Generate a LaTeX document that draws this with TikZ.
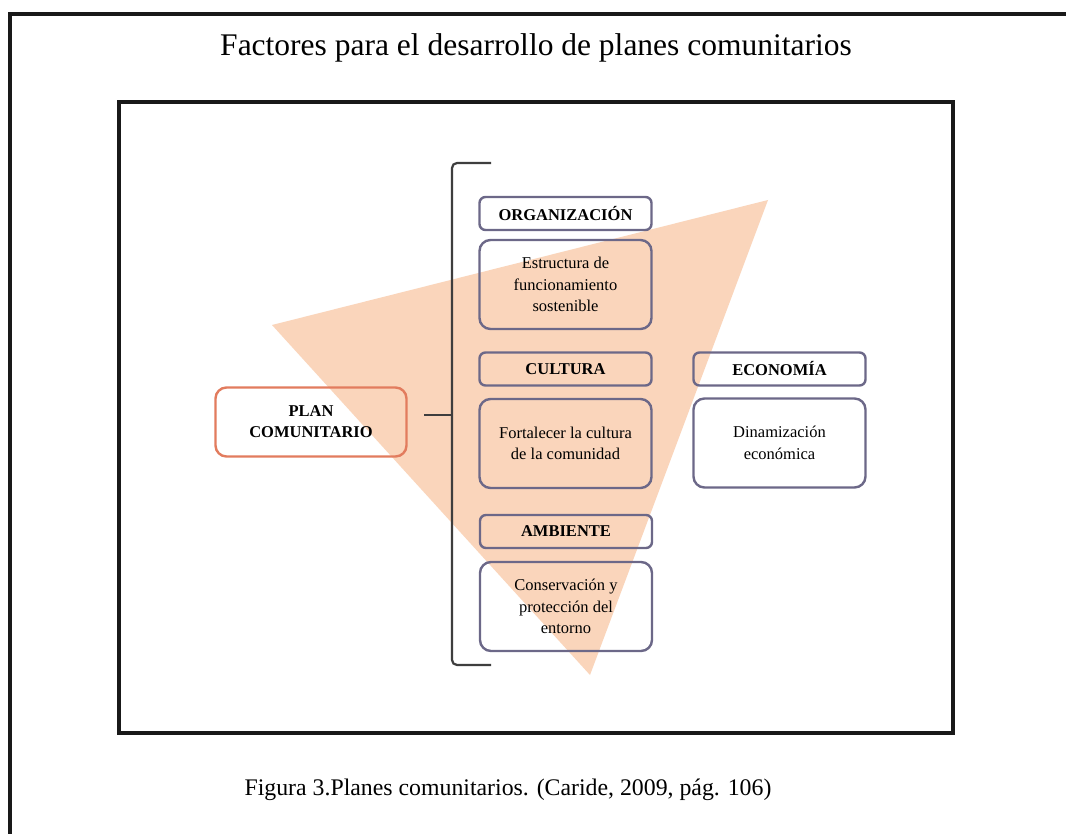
\documentclass[tikz,border=0pt]{standalone}
\usepackage{fontspec}
\setmainfont{Liberation Serif}
\begin{document}
\begin{tikzpicture}[x=1pt,y=-1pt,
  frameline/.style={line width=3.6pt,draw=black!90},
  headbox/.style={draw=boxline,line width=2.4pt,rounded corners=6pt,
    minimum width=172pt,minimum height=33pt,inner sep=0pt,
    font=\fontsize{16.5}{20}\selectfont\bfseries},
  bodybox/.style={draw=boxline,line width=2.4pt,rounded corners=11pt,
    minimum width=172pt,minimum height=89pt,inner sep=0pt,align=center,
    font=\fontsize{16.5}{21.5}\selectfont},
  planbox/.style={draw=planline,line width=2.4pt,rounded corners=11pt,
    minimum width=191pt,minimum height=69pt,inner sep=0pt,align=center,
    font=\fontsize{16.5}{21}\selectfont\bfseries},
  bracketline/.style={draw=brk,line width=2.2pt,rounded corners=5pt}
]
\definecolor{boxline}{HTML}{6C6888}
\definecolor{planline}{HTML}{E27C5E}
\definecolor{tri}{HTML}{FAD5BB}
\definecolor{brk}{HTML}{3E3E3E}

\useasboundingbox (0,0) rectangle (1066,834);
\fill[white] (0,0) rectangle (1066,834);

% outer frame, open to the right and bottom
\draw[frameline] (10,840) -- (10,14) -- (1072,14);
% inner frame
\draw[frameline] (119,102) rectangle (953,733);

% title and caption
\node (title) at (536,48) {\fontsize{31.5}{36}\selectfont Factores para el desarrollo de planes comunitarios};
\node (caption) at (508,790) {\fontsize{23.8}{28}\selectfont Figura 3.Planes comunitarios. (Caride, 2009, pág. 106)};

% background triangle
\fill[tri] (272,325) -- (768,200) -- (590,675) -- cycle;

% root box
\node[planbox] (plan) at (311,422) {PLAN\\COMUNITARIO};

% bracket
\draw[bracketline] (491,163) -- (452,163) -- (452,665) -- (491,665);
\coordinate (stem) at (424,415);
\coordinate (brkpt) at (452,415);
\draw[draw=brk,line width=2.2pt] (stem) -- (brkpt);

% factor boxes
\node[headbox] (org) at (565.5,213.5) {ORGANIZACIÓN};
\node[bodybox] (orgtxt) at (565.5,284.5) {Estructura de\\funcionamiento\\sostenible};

\node[headbox] (cul) at (565.5,369) {CULTURA};
\node[bodybox] (cultxt) at (565.5,443.5) {Fortalecer la cultura\\de la comunidad};

\node[headbox] (amb) at (566,531.5) {AMBIENTE};
\node[bodybox] (ambtxt) at (566,606.5) {Conservación y\\protección del\\entorno};

\node[headbox] (eco) at (779.5,369) {ECONOMÍA};
\node[bodybox] (ecotxt) at (779.5,443) {Dinamización\\económica};
\end{tikzpicture}
\end{document}
